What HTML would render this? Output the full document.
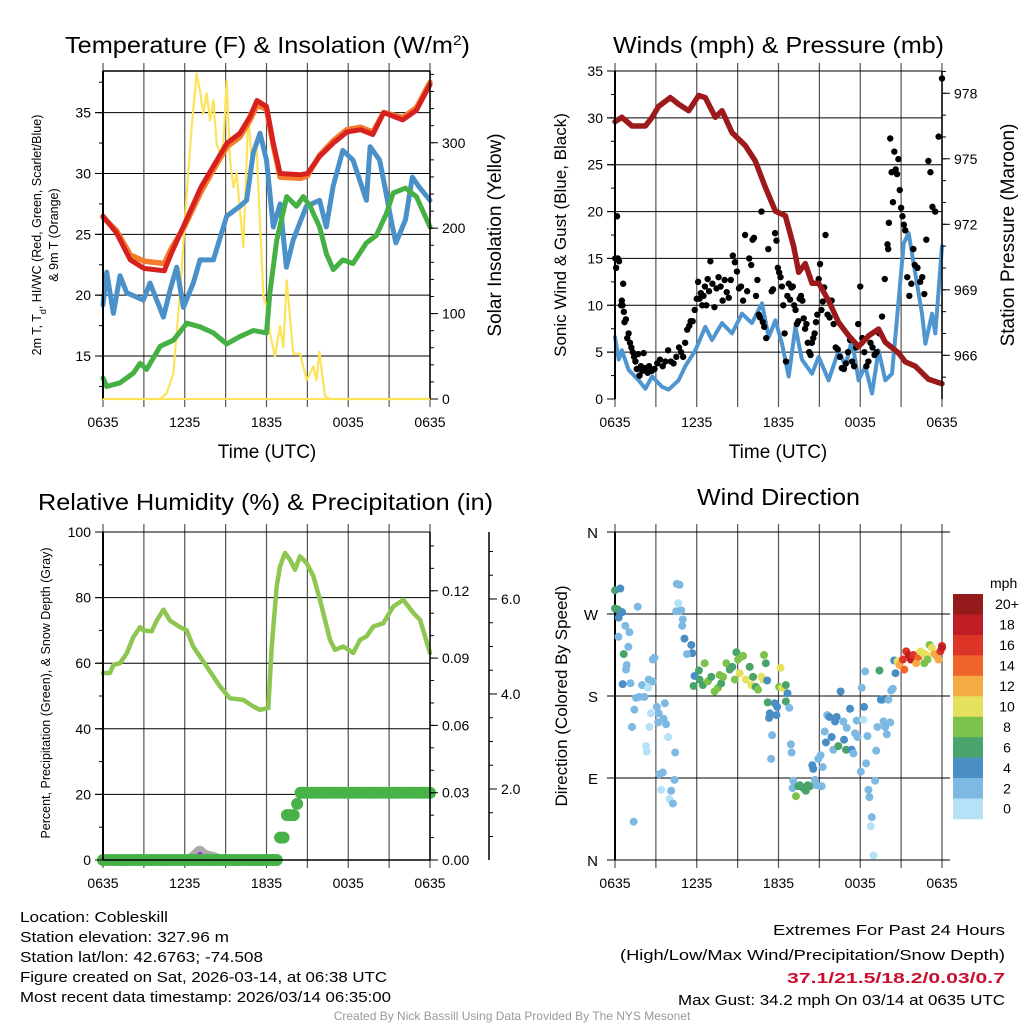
<!DOCTYPE html>
<html><head><meta charset="utf-8"><title>Cobleskill Meteogram</title>
<style>
html,body{margin:0;padding:0;background:#fff;}
svg{display:block;font-family:"Liberation Sans",sans-serif;}
</style></head>
<body>
<svg id="chart" width="1024" height="1024" viewBox="0 0 1024 1024" xmlns="http://www.w3.org/2000/svg">
<rect x="0" y="0" width="1024" height="1024" fill="#fff"/>
<g id="layer"></g>
<text x="65" y="53" font-size="23" textLength="405" lengthAdjust="spacingAndGlyphs">Temperature (F) &amp; Insolation (W/m<tspan baseline-shift="super" font-size="14">2</tspan>)</text>
<text x="613" y="53" font-size="23" textLength="331" lengthAdjust="spacingAndGlyphs">Winds (mph) &amp; Pressure (mb)</text>
<text x="38" y="510" font-size="23" textLength="455" lengthAdjust="spacingAndGlyphs">Relative Humidity (%) &amp; Precipitation (in)</text>
<text x="697" y="505" font-size="23" textLength="163" lengthAdjust="spacingAndGlyphs">Wind Direction</text>
<text x="267" y="458" font-size="19" text-anchor="middle">Time (UTC)</text>
<text x="778" y="458" font-size="19" text-anchor="middle">Time (UTC)</text>
<text transform="translate(41,235) rotate(-90)" font-size="12.5" text-anchor="middle">2m T, T<tspan baseline-shift="sub" font-size="9">d</tspan><tspan baseline-shift="0">, HI/WC (Red, Green, Scarlet/Blue)</tspan></text>
<text transform="translate(58,235) rotate(-90)" font-size="12.5" text-anchor="middle">&amp; 9m T (Orange)</text>
<text transform="translate(501,235) rotate(-90)" font-size="19" text-anchor="middle">Solar Insolation (Yellow)</text>
<text transform="translate(566,235) rotate(-90)" font-size="17" text-anchor="middle">Sonic Wind &amp; Gust (Blue, Black)</text>
<text transform="translate(1014,235) rotate(-90)" font-size="19" text-anchor="middle">Station Pressure (Maroon)</text>
<text transform="translate(50,693) rotate(-90)" font-size="12.5" text-anchor="middle">Percent, Precipitation (Green), &amp; Snow Depth (Gray)</text>
<text transform="translate(567,696) rotate(-90)" font-size="17" text-anchor="middle">Direction (Colored By Speed)</text>
<text x="990" y="588" font-size="14">mph</text>
<g font-size="15">
<text x="20" y="922" textLength="148" lengthAdjust="spacingAndGlyphs">Location: Cobleskill</text>
<text x="20" y="942" textLength="209" lengthAdjust="spacingAndGlyphs">Station elevation: 327.96 m</text>
<text x="20" y="962" textLength="243" lengthAdjust="spacingAndGlyphs">Station lat/lon: 42.6763; -74.508</text>
<text x="20" y="982" textLength="367" lengthAdjust="spacingAndGlyphs">Figure created on Sat, 2026-03-14, at 06:38 UTC</text>
<text x="20" y="1002" textLength="371" lengthAdjust="spacingAndGlyphs">Most recent data timestamp: 2026/03/14 06:35:00</text>
</g>
<g font-size="15" text-anchor="end">
<text x="1005" y="935" textLength="232" lengthAdjust="spacingAndGlyphs">Extremes For Past 24 Hours</text>
<text x="1005" y="960" textLength="385" lengthAdjust="spacingAndGlyphs">(High/Low/Max Wind/Precipitation/Snow Depth)</text>
<text x="1005" y="983" fill="#c8102e" font-weight="bold" textLength="218" lengthAdjust="spacingAndGlyphs">37.1/21.5/18.2/0.03/0.7</text>
<text x="1005" y="1005" textLength="327" lengthAdjust="spacingAndGlyphs">Max Gust: 34.2 mph On 03/14 at 0635 UTC</text>
</g>
<text x="512" y="1020" font-size="12" fill="#999" text-anchor="middle">Created By Nick Bassill Using Data Provided By The NYS Mesonet</text>
</svg>
<script>
// ---------- data ----------
const timeTickLabels = ["0635","1235","1835","0035","0635"];
const tempTimes = [0,1,2,3,4.5,5,6,7.2,8.1,9.1,10.05,10.8,11.3,12,12.5,13,14.5,15,15.9,16.9,17.9,18.9,19.8,20.6,22,23,24];
const tempRed = [26.5,25.1,22.9,22.2,22.0,23.4,25.9,28.9,30.6,32.5,33.3,34.7,36.0,35.5,32.5,30.0,29.9,30.0,31.4,32.5,33.4,33.6,33.2,35.0,34.4,35.2,37.3];
const temp9mOrange = [26.4,25.3,23.3,22.8,22.6,23.8,25.7,28.5,30.3,32.2,33.0,34.4,35.6,35.3,32.3,29.7,29.6,29.8,31.5,32.7,33.6,33.8,33.4,35.0,34.6,35.4,37.5];
const hiwcTimes = [0,0.27,0.76,1.25,1.74,2.96,3.45,4.43,4.92,5.41,5.9,6.63,7.12,8.1,9.08,10.05,10.54,11.03,11.52,12.0,12.5,13.0,13.46,13.95,14.43,14.92,15.9,16.39,16.88,17.6,18.35,19.33,19.6,20.3,20.5,21.25,21.5,22.2,22.7,23.2,24];
const hiwcBlue = [19.2,21.9,18.5,21.6,20.2,19.6,21,18.2,20.4,22.3,19,21,22.9,22.9,26.5,27.3,27.8,31.7,33.3,31.1,25.6,27.5,22.3,24.5,25.9,27.3,27.8,25.6,28.9,31.9,31.1,27.8,32.2,31.1,30.0,25.6,24.3,26.2,29.7,28.9,27.8];
const dewTimes = [0,0.27,1.25,2.23,2.72,3.2,4.2,5.17,6.15,7.12,8.1,9.08,10.05,11.03,12.0,12.25,12.75,13.48,14.2,14.7,15.2,15.9,16.4,16.9,17.6,18.35,19.33,20.06,20.8,21.3,22.2,23,24];
const dewGreen = [13.2,12.5,12.8,13.6,14.4,13.9,15.8,16.3,17.7,17.4,16.9,16.0,16.6,17.1,16.9,20.2,24.5,28.1,27.3,28.1,27.3,25.6,23.4,22.1,22.9,22.6,24.3,24.9,26.7,28.4,28.8,28.1,25.6];
const solarTimes = [0,4.18,4.67,5.16,5.65,6.14,6.51,6.87,7.12,7.36,7.61,7.85,8.10,8.34,8.59,8.83,9.08,9.32,9.57,9.81,10.30,10.67,10.91,11.28,11.77,12.01,12.26,12.62,12.99,13.24,13.48,13.97,14.46,14.95,15.44,15.68,15.88,16.29,16.66,24];
const solarValues = [0,0,6.6,30,124,240,319,381,361,334,358,326,350,299,287,299,373,280,248,264,178,334,280,291,120,108,77,50,85,61,139,53,53,22,38,22,55,3,0,0];
const tempTicks = [15,20,25,30,35];
const solarTicks = [0,100,200,300];

const presTimes = [0,0.51,1.25,2.23,2.72,3.20,4.06,4.67,5.41,6.14,6.63,7.36,7.85,8.59,9.57,10.30,11.03,11.77,12.50,13.11,13.48,13.97,14.46,14.95,15.68,16.42,17.15,17.88,18.62,19.35,19.84,20.82,21.31,22.04,23.02,24];
const presValues = [976.7,976.9,976.5,976.5,976.9,977.4,977.8,977.5,977.2,977.9,977.8,976.9,977.2,976.2,975.6,974.9,973.7,972.6,972.4,971.0,969.8,970.2,969.3,969.3,968.5,967.5,966.9,966.4,966.9,967.2,966.6,966.1,965.7,965.5,964.9,964.7];
const windTimes = [0,0.27,0.51,1.0,1.74,2.23,2.72,3.45,3.94,4.67,5.16,5.90,6.63,7.12,7.85,8.59,9.32,10.05,10.79,11.28,11.77,12.26,12.75,13.24,13.72,14.46,14.95,15.68,16.42,16.91,17.39,17.88,18.37,18.86,19.35,19.84,20.33,20.82,21.19,21.55,22.04,22.53,22.78,23.27,23.51,24];
const windValues = [6.6,4.2,5.2,3.1,2.0,1.1,2.4,1.3,1.0,2.0,3.5,5.2,7.7,6.3,8.1,7.0,9.1,8.1,10.2,6.6,8.4,5.9,2.4,7.7,4.2,2.7,4.5,2.0,5.2,3.5,6.3,2.0,3.5,0.6,5.2,2.0,2.7,10.6,16.6,17.7,13.4,9.1,5.9,9.1,7.0,16.3];
const gustTimes = [0.02,0.08,0.15,0.2,0.3, 0.45,0.5,0.55,0.6,0.65,0.7,0.8,0.9,1.0, 1.1,1.2,1.3,1.4,1.5,1.6,1.7,1.8,1.9,2.0,2.1,2.25,2.4,2.5, 2.7,2.9,3.1,3.3,3.5,3.7,3.9,4.1,4.3,4.5,4.7,4.85,5.0, 5.15,5.3,5.45,5.55,5.7,5.85,6.0, 6.1,6.2,6.3,6.4,6.5,6.6,6.7,6.8,6.9,7.0,7.15,7.3,7.45,7.6,7.75,7.9, 8.05,8.2,8.35,8.5,8.65,8.8,8.95,9.1,9.25,9.4,9.55,9.7,9.85, 10.0,10.1,10.2,10.35,10.45,10.55,10.65,10.75,10.85,10.95,11.1,11.25, 11.5,11.6,11.75,11.85,11.95,12.05,12.15,12.25,12.35,12.45,12.55,12.65,12.75,12.85,12.95,13.05,13.15,13.25,13.35,13.45, 13.55,13.65,13.75,13.85,13.95,14.05,14.15,14.25,14.35,14.45,14.55,14.65,14.75,14.85,14.95,15.05,15.15,15.25,15.35,15.45,15.6,15.75, 15.9,16.05,16.2,16.35,16.5,16.65,16.8,16.95,17.1,17.25,17.4,17.55,17.7,17.85,18.0, 18.15,18.3,18.45,18.6,18.75,18.9,19.05,19.2,19.4,19.6,19.8, 20.0,20.05,20.1,20.2,20.3,20.4,20.5,20.6,20.7,20.8,20.9,21.0,21.1,21.2,21.3,21.45,21.6,21.75,21.9, 22.0,22.2,22.4,22.55,22.7,22.85,23.0,23.15,23.3,23.5,23.75,24.0];
const gustValues = [15,14,19.5,15,14.7, 10,10.5,10,12.3,9.3,8.2,8.5,6.5,7, 6,5.5,5,4.5,4,3.2,4.8,2.5,3.5,3,4.9,3.3,2.8,3.5, 3,3.2,3.8,4.2,3.5,4,5.2,4,3.8,4.5,5.5,5,4.5, 6,7.4,7.8,8.3,8.3,9.5,10.7, 12.5,10.7,11.3,10,11,12,10,12.8,11.5,14.7,12.3,9.8,11.8,13,12,10.5, 12.7,11.4,10.8,12.7,15.3,14.6,13.6,11.8,12,10.5,17.5,11.5,15, 14.3,17,17.2,11,12.7,9,8.7,20,8.2,7.7,6.5,16, 11.5,11.7,17.7,16.9,14,13.5,13,12,10,7,4,11,12.3,10.6,11.9,12,10,9.5,8,8.3, 10.7,11,10.5,8.6,7.5,8,6,5,4.7,6,6.5,7,8.2,9,12.8,14.4,9.5,10.4,11.9,17.5,9,8.7, 10.5,8,5.5,5.3,4.5,3.3,3.2,3.8,5,6.3,4,3.5,5.5,8,12, 6.5,5,3.5,4,6,5.5,4.7,5,7,8.8,12.8, 16.5,16,18.8,27.8,24.2,21,26.4,24.5,24,25.6,22.3,20.4,19.5,18.6,18,13,11,12.3,16, 14.3,14,12.5,13,11.2,17,25.4,24.2,20.5,20,28,34.2];
const windTicks = [0,5,10,15,20,25,30,35];
const presTicks = [966,969,972,975,978];

const rhTimes = [0,0.51,0.76,1.25,1.74,2.23,2.72,2.96,3.57,3.94,4.43,4.92,5.65,6.14,6.63,7.61,8.59,9.32,10.30,11.03,11.52,12.13,12.38,12.75,12.99,13.36,13.72,14.09,14.46,14.95,15.44,15.93,16.29,16.66,17.03,17.64,18.37,18.86,19.35,19.84,20.57,21.31,22.04,22.78,23.27,24];
const rhValues = [57,57,59.5,60,63,68,71,70,69.7,73,76.3,73,71,70,65,59,52.9,49.3,48.8,46.8,45.8,46.3,65,83.4,89.5,93.6,91.6,88.5,92.6,90.5,86.5,79.3,73.2,67.1,64.1,65.1,63.1,67.1,68.2,71.2,72.2,77.3,79.3,75.3,73.2,63.1];
const precipValues = [0,0,0,0,0,0,0,0,0,0, 0,0,0,0,0,0,0,0,0,0, 0,0,0,0,0,0,0,0,0,0, 0,0,0,0,0,0,0,0,0,0, 0,0,0,0,0,0,0,0,0,0, 0,0, 0.01,0.01,0.02,0.02,0.02,0.025, 0.03,0.03,0.03,0.03,0.03,0.03,0.03,0.03,0.03,0.03, 0.03,0.03,0.03,0.03,0.03,0.03,0.03,0.03,0.03,0.03, 0.03,0.03,0.03,0.03,0.03,0.03,0.03,0.03,0.03,0.03, 0.03,0.03,0.03,0.03,0.03,0.03,0.03,0.03,0.03];
const snowTimes = [6.6,6.9,7.1,7.3,7.6,7.9,8.2];
const snowValues = [0.55,0.62,0.68,0.62,0.58,0.56,0.54];
const rhTicks = [0,20,40,60,80,100];
const precipTicks = [0,0.03,0.06,0.09,0.12];
const precipTickLabels = ["0.00","0.03","0.06","0.09","0.12"];
const snowTicks = [2,4,6];
const snowTickLabels = ["2.0","4.0","6.0"];

const dirTimes = [
0,0,0.2,0.39,0.52,0.27,0.25,0.76,1.06,0.64,
0.98,0.86,0.81,0.56,1.13,1.67,1.55,1.42,1.25,1.37,
1.79,1.99,2.16,2.48,2.77,2.9,2.43,2.63,2.53,2.77,
3.07,3.21,3.17,3.66,3.56,3.75,3.9,2.28,2.33,3.26,
3.51,3.39,4.0,4.25,4.12,4.37,4.42,4.54,4.74,4.64,
4.49,4.86,4.98,4.93,5.1,5.6,5.67,5.28,5.84,5.77,
6.16,6.21,6.45,6.58,6.82,7.07,7.31,7.56,7.68,7.8,
7.93,8.17,8.42,8.61,8.79,8.91,9.03,9.28,9.4,9.15,
9.6,9.89,10.01,10.13,10.33,10.5,10.75,10.87,10.94,11.07,
11.17,11.21,11.36,11.31,11.53,11.46,11.73,11.9,11.85,12.05,
12.15,12.27,12.54,12.66,12.54,12.79,12.91,12.96,13.08,13.03,
13.28,13.45,13.57,13.82,14.01,14.13,14.31,14.48,14.55,14.67,
14.8,14.92,15.17,15.24,15.09,15.39,15.48,15.58,15.73,15.9,
16.02,16.15,16.27,16.39,16.56,16.76,16.81,16.96,17.01,17.25,
17.37,17.5,17.62,17.74,17.79,18.04,18.11,18.23,18.28,18.36,
18.43,18.53,18.6,18.67,18.85,18.77,18.97,19.09,19.17,19.26,
19.41,19.51,19.61,19.71,19.83,19.95,20.07,20.2,20.27,20.39,
20.49,20.59,20.74,20.88,21.13,21.23,21.37,21.55,21.72,21.91,
22.11,22.28,22.4,22.6,22.7,22.85,22.94,23.09,23.26,23.44,
23.63,23.75,23.88,24.0,24.0];
const dirDegrees = [
296,276,275,298,272,266,245,257,250,226,
234,214,209,193,194,278,178,165,146,42,
179,192,179,198,220,222,189,161,146,196,
168,161,151,172,155,149,135,125,119,94,
96,77,67,62,76,88,118,303,302,282,
273,274,264,257,243,236,227,226,202,191,
208,198,192,216,196,201,185,189,203,194,
201,216,209,212,198,228,220,223,224,205,
198,212,192,201,190,187,201,198,225,216,
197,173,161,156,137,111,172,168,159,190,
211,189,192,183,174,167,127,118,87,79,
70,81,82,79,76,82,81,104,100,88,
82,111,81,102,115,141,129,159,157,135,
121,152,157,125,185,152,132,121,145,166,
121,117,139,153,135,97,189,154,168,207,
106,136,77,69,47,37,5,87,120,146,
208,176,176,152,146,138,176,151,186,188,
219,205,218,214,220,209,229,225,220,225,
216,223,229,227,216,225,220,236,233,226,
223,220,229,235,233];
const dirSpeeds = [
7,7,7,5,5,5,3,3,3,7,
3,3,3,5,3,3,3,3,3,3,
3,3,3,3,3,3,1,1,1,3,
3,3,3,3,3,3,1,1,1,3,
3,1,1,3,3,3,3,3,3,1,
3,3,3,3,5,5,5,3,5,7,
7,7,7,9,9,7,9,9,9,7,
9,9,7,7,9,7,9,9,9,11,
11,7,11,7,7,9,11,11,9,7,
5,7,5,5,3,3,5,5,5,9,
11,11,7,5,7,3,3,3,3,3,
9,7,7,7,7,7,7,5,5,3,
3,3,3,3,3,3,5,3,5,5,
3,5,5,7,5,3,5,7,3,5,
5,3,3,3,3,3,3,1,5,3,
3,3,3,3,3,1,1,3,3,3,
7,5,5,3,3,3,3,3,3,3,
5,5,11,13,17,15,17,19,19,17,
13,15,11,11,9,11,9,9,11,13,
13,13,17,17,19];
const speedBinLabels = ["0","2","4","6","8","10","12","14","16","18","20+"];
const speedBinColors = ["#b5e2f7","#7db9e2","#4a8ec6","#48a46b","#7dc24b","#e6e15c","#f5aa46","#ef6529","#dc3427","#bf1d24","#941a1c"];
const dirTicks = [0,90,180,270,360];
const dirTickLabels = ["N","E","S","W","N"];

// ---------- helpers ----------
const NS = "http://www.w3.org/2000/svg";
const layer = document.getElementById("layer");
function mk(tag, attrs, parent){ const e=document.createElementNS(NS,tag); for(const k in attrs) e.setAttribute(k,attrs[k]); (parent||layer).appendChild(e); return e; }
function linScale(d0,d1,r0,r1){ return v => r0 + (v-d0)/(d1-d0)*(r1-r0); }
const X0=103, X1=430, RX0=615, RX1=942;
const xL = linScale(0,24,X0,X1), xR = linScale(0,24,RX0,RX1);

function grid(g, xs, y0, y1, x0, x1, hVals, yf){
  for(let h=0; h<=24; h+=3){
    const l=mk("line",{x1:xs(h),x2:xs(h),y1:y0-8,y2:y1+8,stroke:"#555","stroke-width":1.2},g);
    
    
  }
  hVals.forEach(v=>{
    const l=mk("line",{x1:x0-8,x2:x1,y1:yf(v),y2:yf(v),stroke:"#000","stroke-width":1},g);
    
    
  });
}
function timeLabels(g, xs, y){
  timeTickLabels.forEach((t,i)=>{
    const tx=mk("text",{x:xs(i*6),y:y,"font-size":14,"text-anchor":"middle"},g); tx.textContent=t;
    
    
  });
}
function pathFrom(ts,vs,xs,ys){ return ts.map((t,i)=>(i?"L":"M")+xs(t).toFixed(1)+","+ys(vs[i]).toFixed(1)).join(""); }
function line(g,ts,vs,xs,ys,color,w,name){
  const p=mk("path",{d:pathFrom(ts,vs,xs,ys),fill:"none",stroke:color,"stroke-width":w,"stroke-linejoin":"round","stroke-linecap":"round"},g);
  
  
  return p;
}
function yTicks(g, vals, labels, yf, x, side, major, minorVals, nameBase){
  minorVals.forEach(v=>{ const l=mk("line",{x1:x,x2:x+side*4,y1:yf(v),y2:yf(v),stroke:"#000","stroke-width":1},g);
    
     });
  vals.forEach((v,i)=>{
    const l=mk("line",{x1:x,x2:x+side*major,y1:yf(v),y2:yf(v),stroke:"#000","stroke-width":1},g);
    
    
    const tx=mk("text",{x:x+side*(major+4),y:yf(v)+5,"font-size":14,"text-anchor":side<0?"end":"start"},g);
    tx.textContent=labels[i];
    
    
  });
}
function range(a,b,s){ const r=[]; for(let v=a; v<=b+1e-9; v+=s) r.push(+v.toFixed(4)); return r; }

// ---------- Panel 1 ----------
{
  const g=mk("g",{});  
  const y0=71,y1=399;
  const yT=linScale(11.47,38.42,y1,y0), yS=linScale(0,384,y1,y0);
  grid(g,xL,y0,y1,X0,X1,tempTicks,yT);
  line(g,solarTimes,solarValues,xL,yS,"#fde35a",2.2,"solar-insolation-line");
  line(g,hiwcTimes,hiwcBlue,xL,yT,"#4a90c9",5,"wind-chill-line");
  line(g,dewTimes,dewGreen,xL,yT,"#45b043",5,"dewpoint-line");
  line(g,tempTimes,temp9mOrange,xL,yT,"#f47c2a",5.5,"temperature-9m-line");
  line(g,tempTimes,tempRed,xL,yT,"#d7211f",5,"temperature-2m-line");
  mk("line",{x1:X0,x2:X0,y1:y0,y2:y1,stroke:"#000","stroke-width":2},g);
  mk("line",{x1:X1,x2:X1,y1:y0,y2:y1,stroke:"#000","stroke-width":1.5},g);
  mk("line",{x1:X0,x2:X1,y1:y0,y2:y0,stroke:"#000","stroke-width":1.5},g);
  mk("line",{x1:X0,x2:X1,y1:y1,y2:y1,stroke:"#fde35a","stroke-width":2},g);
  yTicks(g,tempTicks,tempTicks.map(String),yT,X0,-1,8,range(12.5,37.5,2.5),"temperature-axis");
  yTicks(g,solarTicks,solarTicks.map(String),yS,X1,1,8,range(20,380,20),"solar-axis");
  timeLabels(g,xL,427);
}
// ---------- Panel 2 ----------
{
  const g=mk("g",{});  
  const y0=71,y1=399;
  const yW=linScale(0,35,y1,y0), yP=linScale(964.0,979.02,y1,y0);
  grid(g,xR,y0,y1,RX0,RX1,[5,10,15,20,25,30,35],yW);
  line(g,windTimes,windValues,xR,yW,"#4f95d0",4,"sonic-wind-line");
  gustTimes.forEach((t,i)=>{
    const c=mk("circle",{cx:xR(t),cy:yW(gustValues[i]),r:3.2,fill:"#000"},g);
    
    
  });
  line(g,presTimes,presValues,xR,yP,"#9c1a1c",5.5,"station-pressure-line");
  mk("line",{x1:RX0,x2:RX0,y1:y0,y2:y1,stroke:"#000","stroke-width":2},g);
  mk("line",{x1:RX1,x2:RX1,y1:y0,y2:y1,stroke:"#000","stroke-width":1.5},g);
  yTicks(g,windTicks,windTicks.map(String),yW,RX0,-1,8,range(2.5,32.5,2.5),"wind-axis");
  yTicks(g,presTicks,presTicks.map(String),yP,RX1,1,8,range(965,979,1),"pressure-axis");
  timeLabels(g,xR,427);
}
// ---------- Panel 3 ----------
{
  const g=mk("g",{});  
  const y0=532,y1=860;
  const yH=linScale(0,100,y1,y0), yPr=linScale(0,0.1462,y1,y0), ySn=linScale(0.505,7.41,y1,y0);
  grid(g,xL,y0,y1,X0,X1,[20,40,60,80,100],yH);
  line(g,rhTimes,rhValues,xL,yH,"#8dc650",4.5,"relative-humidity-line");
  line(g,snowTimes,snowValues,xL,ySn,"#aaaaaa",12,"snow-depth-line");
  const m=mk("circle",{cx:xL(7.12),cy:ySn(0.62),r:2.5,fill:"#a020f0"},g);
   
  precipValues.forEach((v,i)=>{
    const c=mk("circle",{cx:xL(i/4),cy:yPr(v),r:6,fill:"#47b247"},g);
    
    
  });
  mk("line",{x1:X0,x2:X0,y1:y0,y2:y1,stroke:"#000","stroke-width":2},g);
  mk("line",{x1:X1,x2:X1,y1:y0,y2:y1,stroke:"#000","stroke-width":1.5},g);
  mk("line",{x1:X0,x2:X1,y1:y1,y2:y1,stroke:"#000","stroke-width":1.5},g);
  yTicks(g,rhTicks,rhTicks.map(String),yH,X0,-1,8,range(10,90,10),"humidity-axis");
  yTicks(g,precipTicks,precipTickLabels,yPr,X1,1,8,range(0.01,0.14,0.01),"precipitation-axis");
  const SX=489;
  mk("line",{x1:SX,x2:SX,y1:y0,y2:y1,stroke:"#000","stroke-width":1.5},g);
  yTicks(g,snowTicks,snowTickLabels,ySn,SX,1,8,range(1,7,0.5),"snow-depth-axis");
  timeLabels(g,xL,888);
}
// ---------- Panel 4 ----------
{
  const g=mk("g",{});  
  const y0=532,y1=860;
  const yD=linScale(0,360,y1,y0);
  for(let h=0; h<=24; h+=3){
    const l=mk("line",{x1:xR(h),x2:xR(h),y1:y0-8,y2:y1+8,stroke:"#555","stroke-width":1.2},g);
     
  }
  dirTicks.forEach((v,i)=>{
    const l=mk("line",{x1:RX0-8,x2:950,y1:yD(v),y2:yD(v),stroke:"#000","stroke-width":1},g);
     
    const tx=mk("text",{x:598,y:yD(v)+6,"font-size":15,"text-anchor":"end"},g); tx.textContent=dirTickLabels[i];
     
  });
  mk("line",{x1:RX0,x2:RX0,y1:y0,y2:y1,stroke:"#000","stroke-width":2},g);
  dirTimes.forEach((t,i)=>{
    const k=Math.min(10,Math.floor(dirSpeeds[i]/2));
    const c=mk("circle",{cx:xR(t),cy:yD(dirDegrees[i]),r:4,fill:speedBinColors[k]},g);
    
    
  });
  timeLabels(g,xR,888);
  const cb=mk("g",{},g);  
  const cbTop=594, cbH=20.45;
  speedBinLabels.forEach((lab,i)=>{
    const k=10-i;
    const r=mk("rect",{x:953,y:cbTop+i*cbH,width:30,height:cbH+0.3,fill:speedBinColors[k]},cb);
     
    const tx=mk("text",{x:1007,y:cbTop+i*cbH+cbH/2+5,"font-size":14,"text-anchor":"middle"},cb); tx.textContent=speedBinLabels[k];
     
  });
}
</script>
</body></html>
